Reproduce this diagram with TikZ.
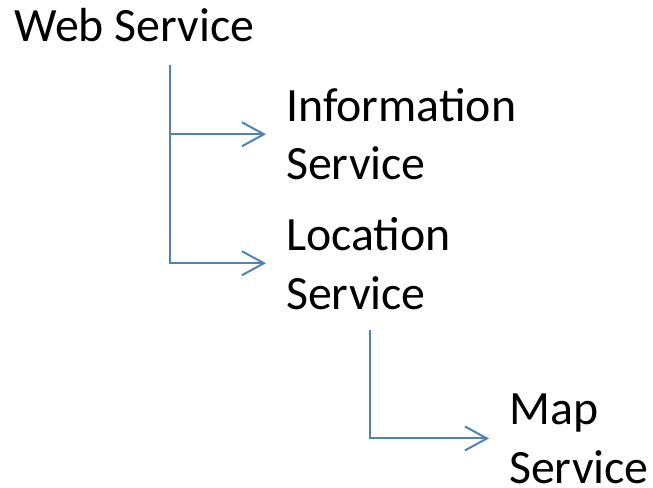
\documentclass[tikz,border=0pt]{standalone}
\usepackage{fontspec}
\setmainfont{Carlito}
\usetikzlibrary{arrows.meta}
\begin{document}
\begin{tikzpicture}[
        x=1bp, y=-1bp,
        % Define styles
        label/.style={anchor=base west, inner sep=0pt, align=left,
            font=\fontsize{48}{59}\selectfont},
        link/.style={draw={rgb,255:red,79;green,129;blue,189}, line width=2bp,
            -{Straight Barb[length=22bp, width=24bp, line width=2bp]}}
    ]
        \useasboundingbox (0,0) rectangle (653,488);

        % --- Nodes ---
        \node[label] (web) at (14,42) {Web Service};
        \node[label] (info) at (286,180) {Information\\Service};
        \node[label] (loc) at (286,309) {Location\\Service};
        \node[label] (map) at (509,483) {Map\\Service};

        % --- Stems ---
        \coordinate (web_stem) at (170,65);
        \coordinate (loc_stem) at (370,330);

        % --- Connectors ---
        \draw[link] (web_stem) |- ([xshift=-20bp]info.west);
        \draw[link] (web_stem) |- ([xshift=-20bp]loc.west);
        \draw[link] (loc_stem) |- ([xshift=-20bp]map.west);

    \end{tikzpicture}
\end{document}
